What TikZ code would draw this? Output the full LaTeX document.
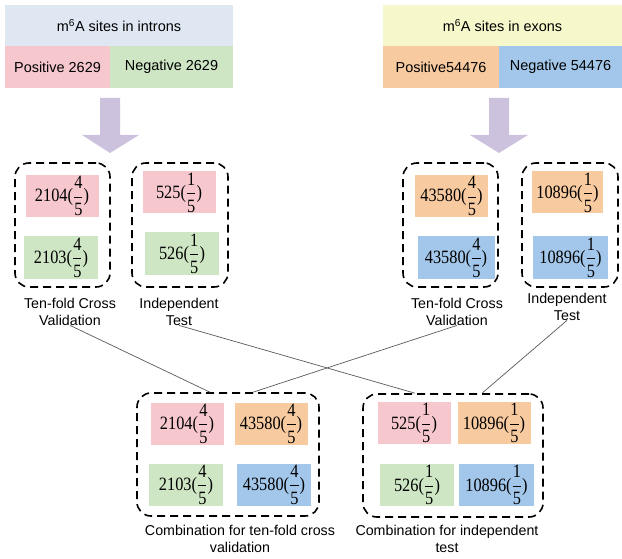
\documentclass[tikz,border=0pt]{standalone}
\usepackage{amsmath}
\usepackage{graphicx}
\usepackage{fontspec}
\setmainfont{Liberation Serif}
\newfontfamily\arialfont{Liberation Sans}
\usepackage{xcolor}
\usepackage{tikz}

\definecolor{hdrblue}{RGB}{222,231,242}
\definecolor{hdryellow}{RGB}{247,247,204}
\definecolor{poscol}{RGB}{246,200,206}
\definecolor{negcol}{RGB}{206,230,196}
\definecolor{exposcol}{RGB}{247,202,160}
\definecolor{exnegcol}{RGB}{163,199,234}
\definecolor{arrowcol}{RGB}{204,194,222}

\newcommand\cellval[2]{\scalebox{1}[1.15]{#1($\dfrac{\text{#2}}{\text{5}}$)}}

\tikzset{
	cell/.style={inner sep=0pt, minimum width=73bp, minimum height=42bp, font=\fontsize{16.4}{19}\selectfont},
	head/.style={inner sep=0pt, minimum height=42bp, font=\arialfont\fontsize{14.5}{17}\selectfont},
	group/.style={draw, line width=1.6bp, dash pattern=on 8bp off 5bp, rounded corners=14bp, inner sep=0pt},
	caption/.style={align=center, inner sep=0pt, font=\arialfont\fontsize{14.3}{17}\selectfont},
	link/.style={draw=black!65, line width=0.7bp}
}

\begin{document}
\begin{tikzpicture}[x=1bp,y=-1bp]
	\useasboundingbox (0,0) rectangle (622,559);
	\node[head, fill=hdrblue, minimum width=228bp, minimum height=41bp] (intron) at (119,25.5) {m\textsuperscript{6}A sites in introns};
	\node[head, fill=poscol, minimum width=105bp] (inpos) at (57.5,67) {Positive 2629};
	\node[head, fill=negcol, minimum width=123bp] (inneg) at (171.5,67) {Negative 2629};
	\node[head, fill=hdryellow, minimum width=239bp, minimum height=41bp] (exon) at (502.5,25.5) {m\textsuperscript{6}A sites in exons};
	\node[head, fill=exposcol, minimum width=116bp] (expos) at (441,67) {Positive54476};
	\node[head, fill=exnegcol, minimum width=123bp] (exneg) at (560.5,67) {Negative 54476};
	\fill[arrowcol] (100,98) -- (120,98) -- (120,135) -- (139,135) -- (110,153) -- (82,135) -- (100,135) -- cycle;
	\fill[arrowcol] (489,98) -- (509,98) -- (509,135) -- (528,135) -- (499,153) -- (470,135) -- (489,135) -- cycle;

	\node[group, minimum width=95bp, minimum height=124bp] (tfin) at (62.5,225) {};
	\node[group, minimum width=96bp, minimum height=124bp] (itin) at (180,225) {};
	\node[group, minimum width=95bp, minimum height=124bp] (tfex) at (450.5,225) {};
	\node[group, minimum width=96bp, minimum height=124bp] (itex) at (570,225) {};
	\node[cell, fill=poscol] (tfinpos) at (62,196) {\cellval{2104}{4}};
	\node[cell, fill=negcol, minimum width=74bp] (tfinneg) at (61,257.5) {\cellval{2103}{4}};
	\node[cell, fill=poscol] (itinpos) at (179,192.5) {\cellval{525}{1}};
	\node[cell, fill=negcol, minimum width=74bp] (itinneg) at (182,253.5) {\cellval{526}{1}};
	\node[cell, fill=exposcol] (tfexpos) at (451.5,196) {\cellval{43580}{4}};
	\node[cell, fill=exnegcol, minimum width=77bp] (tfexneg) at (456,257.5) {\cellval{43580}{4}};
	\node[cell, fill=exposcol, minimum width=71bp] (itexpos) at (567.5,192.5) {\cellval{10896}{1}};
	\node[cell, fill=exnegcol, minimum width=75bp] (itexneg) at (570.5,257.5) {\cellval{10896}{1}};
	\node[caption] (tfinlbl) at (70,311.5) {Ten-fold Cross\\Validation};
	\node[caption] (itinlbl) at (179,311.5) {Independent\\Test};
	\node[caption] (tfexlbl) at (457,311.5) {Ten-fold Cross\\Validation};
	\node[caption] (itexlbl) at (567,306.5) {Independent\\Test};

	\node[group, minimum width=182bp, minimum height=123bp] (cbtf) at (228,454.5) {};
	\node[group, minimum width=180bp, minimum height=123bp] (cbit) at (453,455.5) {};
	\node[cell, fill=poscol] (cbtfa) at (187,423.5) {\cellval{2104}{4}};
	\node[cell, fill=exposcol] (cbtfb) at (271,423.5) {\cellval{43580}{4}};
	\node[cell, fill=negcol, minimum width=74bp] (cbtfc) at (186,484.5) {\cellval{2103}{4}};
	\node[cell, fill=exnegcol, minimum width=74bp] (cbtfd) at (274,484.5) {\cellval{43580}{4}};
	\node[cell, fill=poscol] (cbita) at (414,423) {\cellval{525}{1}};
	\node[cell, fill=exposcol] (cbitb) at (494,423) {\cellval{10896}{1}};
	\node[cell, fill=negcol, minimum width=74bp] (cbitc) at (417,485) {\cellval{526}{1}};
	\node[cell, fill=exnegcol, minimum width=75bp] (cbitd) at (496.5,485) {\cellval{10896}{1}};
	\node[caption] (cbtflbl) at (240,538.5) {Combination for ten-fold cross\\validation};
	\node[caption] (cbitlbl) at (447,538.5) {Combination for independent\\test};

	\draw[link] (tfinlbl.south) -- ([xshift=-18bp]cbtf.north);
	\draw[link] (tfexlbl.south) -- ([xshift=25bp]cbtf.north);
	\draw[link] (itinlbl.south) -- ([xshift=-38bp]cbit.north);
	\draw[link] (itexlbl.south) -- ([xshift=29bp]cbit.north);
\end{tikzpicture}
\end{document}
